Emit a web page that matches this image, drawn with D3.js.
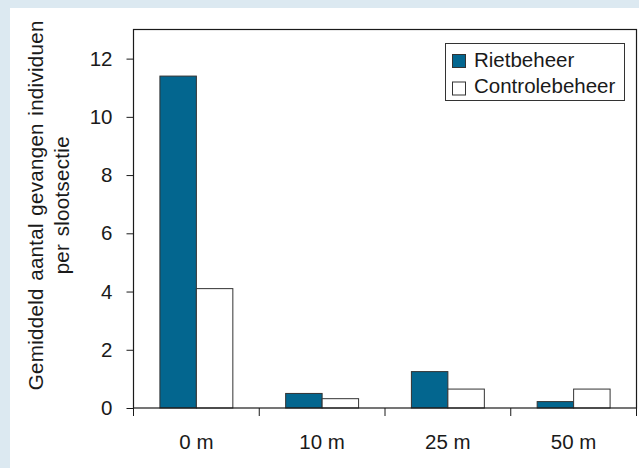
<!DOCTYPE html>
<html>
<head>
<meta charset="utf-8">
<script src="https://cdn.jsdelivr.net/npm/d3@7/dist/d3.min.js"></script>
<style>
  html, body { margin: 0; padding: 0; background: #dce9f1; }
  svg { display: block; }
  text { font-family: "Liberation Sans", Arial, sans-serif; fill: #1a1a1a; }
</style>
</head>
<body>
<svg id="chart" width="639" height="468"></svg>
<script>
const categories = ["0 m", "10 m", "25 m", "50 m"];
const seriesNames = ["Rietbeheer", "Controlebeheer"];
const rietbeheer = [11.4, 0.5, 1.25, 0.22];
const controlebeheer = [4.1, 0.32, 0.65, 0.65];
const yTicks = [0, 2, 4, 6, 8, 10, 12];
const yLabelLines = ["Gemiddeld aantal gevangen individuen", "per slootsectie"];
const colors = ["#03668f", "#ffffff"];

const svg = d3.select("#chart");
const W = 639, H = 468;
const FS = 20.5;
const plot = { left: 133.5, right: 636.5, top: 29.5, bottom: 408 };

svg.append("rect").attr("x", 10).attr("y", 8).attr("width", W - 10).attr("height", H - 8).attr("fill", "#ffffff");

const x0 = d3.scaleBand().domain(categories).range([plot.left, plot.right]).padding(0);
const groupW = x0.bandwidth() * 0.58;
const x1 = d3.scaleBand().domain(seriesNames).range([0, groupW]).padding(0);
const y = d3.scaleLinear().domain([0, 13]).range([plot.bottom, plot.top]);

const data = categories.map((c, i) => ({ cat: c, vals: [rietbeheer[i], controlebeheer[i]] }));

// bars
const g = svg.append("g").selectAll("g").data(data).join("g")
  .attr("transform", d => `translate(${x0(d.cat) + (x0.bandwidth() - groupW) / 2},0)`);
g.selectAll("rect").data(d => d.vals.map((v, j) => ({ v, s: seriesNames[j], j })))
  .join("rect")
  .attr("x", d => x1(d.s))
  .attr("y", d => y(d.v))
  .attr("width", x1.bandwidth())
  .attr("height", d => y(0) - y(d.v))
  .attr("fill", d => colors[d.j])
  .attr("stroke", "#333")
  .attr("stroke-width", 1);

// frame
svg.append("rect").attr("x", plot.left).attr("y", plot.top)
  .attr("width", plot.right - plot.left).attr("height", plot.bottom - plot.top)
  .attr("fill", "none").attr("stroke", "#1a1a1a").attr("stroke-width", 1.2);

// y axis
const yAxis = svg.append("g").attr("transform", `translate(${plot.left},0)`)
  .call(d3.axisLeft(y).tickValues(yTicks).tickSize(7).tickPadding(14).tickFormat(d3.format("d")));
yAxis.select(".domain").remove();
yAxis.selectAll("line").attr("stroke", "#1a1a1a");
yAxis.selectAll("text").attr("font-size", FS).attr("fill", "#1a1a1a");

// x axis: ticks at band boundaries, labels at centers
const xAxis = svg.append("g").attr("transform", `translate(0,${plot.bottom})`)
  .call(d3.axisBottom(x0).tickSize(0).tickPadding(26.5));
xAxis.select(".domain").remove();
xAxis.selectAll("text").attr("font-size", FS).attr("fill", "#1a1a1a");
const bounds = categories.map(c => x0(c)).concat([x0.range()[1]]);
svg.append("g").selectAll("line").data(bounds).join("line")
  .attr("x1", d => d).attr("x2", d => d)
  .attr("y1", plot.bottom).attr("y2", plot.bottom + 8)
  .attr("stroke", "#1a1a1a").attr("stroke-width", 1);

// y label
const yl = svg.append("g").attr("transform", `translate(0,${(plot.top + plot.bottom) / 2 - 13.5}) rotate(-90)`);
yLabelLines.forEach((t, i) => {
  yl.append("text").attr("x", 0).attr("y", 43 + i * 26)
    .attr("text-anchor", "middle").attr("font-size", FS)
    .attr("letter-spacing", 0.3).attr("word-spacing", 1.5).text(t);
});

// legend
const lg = svg.append("g");
lg.append("rect").attr("x", 445.5).attr("y", 43.5).attr("width", 179).attr("height", 57)
  .attr("fill", "#fff").attr("stroke", "#333").attr("stroke-width", 1);
seriesNames.forEach((s, i) => {
  lg.append("rect").attr("x", 452.5).attr("y", 54.5 + i * 27.5).attr("width", 13).attr("height", 13)
    .attr("fill", colors[i]).attr("stroke", "#333");
  lg.append("text").attr("x", 474).attr("y", 67.3 + i * 26).attr("font-size", FS).text(s);
});
</script>
</body>
</html>
